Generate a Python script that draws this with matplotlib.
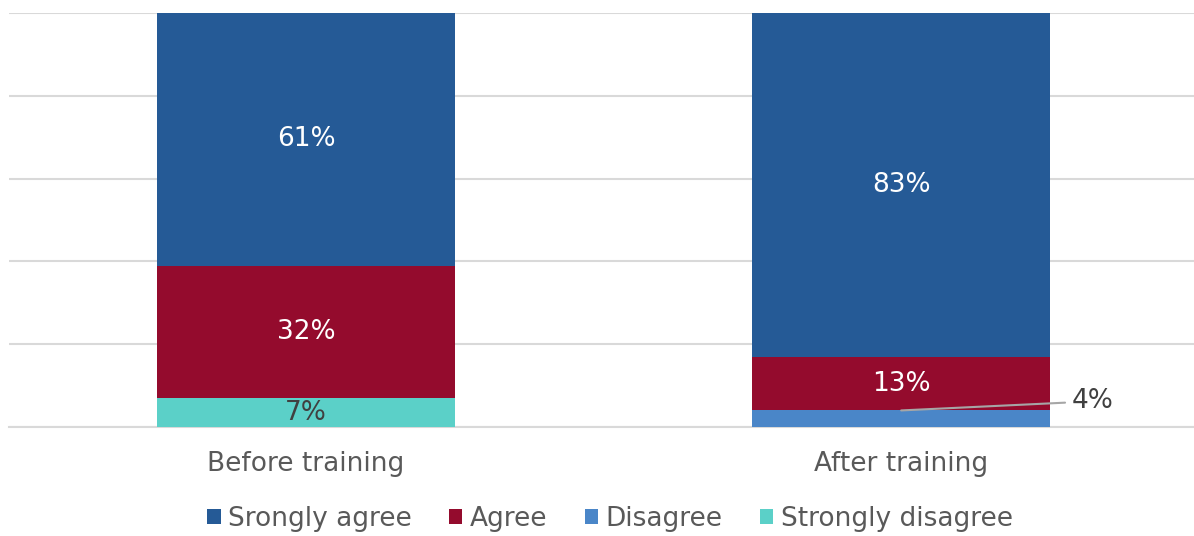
import matplotlib
matplotlib.use("Agg")
import matplotlib.pyplot as plt
import numpy as np

categories = ["Before training", "After training"]
series_names = ["Srongly agree", "Agree", "Disagree", "Strongly disagree"]
strongly_agree = [61, 83]
agree = [32, 13]
disagree = [0, 4]
strongly_disagree = [7, 0]

colors = {
    "Srongly agree": "#255A96",
    "Agree": "#940B2D",
    "Disagree": "#4A86C8",
    "Strongly disagree": "#5BD0C8",
}

plt.rcParams['font.family'] = ['DejaVu Sans']
fig = plt.figure(figsize=(11.94, 5.36), dpi=100)
ax = fig.add_axes([9/1194, 1-427/536, 1-9/1194, (427-13)/536])

x = np.arange(len(categories))
width = 0.5
stack_order = [("Strongly disagree", strongly_disagree), ("Disagree", disagree),
               ("Agree", agree), ("Srongly agree", strongly_agree)]
bottom = np.zeros(len(categories))
bars = {}
for name, vals in stack_order:
    vals = np.array(vals, dtype=float)
    bars[name] = ax.bar(x, vals, width, bottom=bottom, color=colors[name],
                        label=name, zorder=3)
    for i, v in enumerate(vals):
        if v <= 0:
            continue
        cy = bottom[i] + v / 2
        if name == "Disagree":
            top = bottom[i] + v
            ax.annotate(f"{int(v)}%", xy=(x[i], top), xytext=(x[i] + 0.287, top + 2.2),
                        fontsize=19, color="#404040", va="center", ha="left",
                        arrowprops=dict(arrowstyle="-", color="#A6A6A6", lw=1.5,
                                        shrinkA=3, shrinkB=0),
                        zorder=5)
        else:
            tc = "#404040" if name == "Strongly disagree" else "white"
            ax.text(x[i], cy, f"{int(v)}%", ha="center", va="center",
                    fontsize=19, color=tc, zorder=4)
    bottom += vals

ax.set_xlim(-0.499, 1.492)
ax.set_ylim(0, 100)
ax.set_yticks([0, 20, 40, 60, 80, 100])
ax.yaxis.grid(True, color="#D9D9D9", lw=1.5, zorder=0)
ax.tick_params(axis="y", left=False, labelleft=False)
ax.tick_params(axis="x", bottom=False, labelsize=19, labelcolor="#595959", pad=14)
ax.set_xticks(x)
ax.set_xticklabels(categories)
for s in ["top", "right", "left"]:
    ax.spines[s].set_visible(False)
ax.spines["bottom"].set_color("#D9D9D9")
ax.spines["bottom"].set_linewidth(1.5)

handles = [bars[n] for n in series_names]
leg = fig.legend(handles, series_names, loc="center", bbox_to_anchor=(0.511, 1-519/536),
                 ncol=4, frameon=False, fontsize=19, handlelength=0.5, handleheight=0.5,
                 handletextpad=0.3, columnspacing=1.4, labelcolor="#595959")

fig.savefig("out.png", dpi=100)
